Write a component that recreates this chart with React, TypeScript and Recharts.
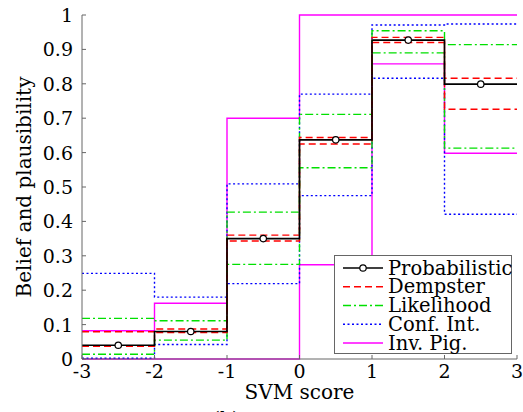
import { ComposedChart, Line, Scatter, XAxis, YAxis, Legend, Label } from "recharts";

// bin edges and centres along the SVM score axis
const EDGES = [-3, -2, -1, 0, 1, 2, 3];
const CENTERS = [-2.5, -1.5, -0.5, 0.5, 1.5, 2.5];

// one value per bin
const PROB = [0.04, 0.08, 0.35, 0.637, 0.927, 0.799];
const DEMP_LO = [0.037, 0.077, 0.343, 0.625, 0.92, 0.726];
const DEMP_HI = [0.079, 0.087, 0.36, 0.644, 0.935, 0.816];
const LIK_LO = [0.014, 0.055, 0.275, 0.556, 0.89, 0.613];
const LIK_HI = [0.118, 0.111, 0.427, 0.711, 0.954, 0.914];
const CONF_LO = [0.002, 0.042, 0.219, 0.475, 0.816, 0.421];
const CONF_HI = [0.249, 0.18, 0.509, 0.77, 0.971, 0.974];
const PIG_LO = [0, 0, 0, 0.274, 0.858, 0.598];
const PIG_HI = [0.082, 0.162, 0.7, 1.0, 1.0, 1.0];

const X_TICKS = [-3, -2, -1, 0, 1, 2, 3];
const X_LABELS = ["-3", "-2", "-1", "0", "1", "2", "3"];
const Y_TICKS = [0, 0.1, 0.2, 0.3, 0.4, 0.5, 0.6, 0.7, 0.8, 0.9, 1];
const Y_LABELS = ["0", "0.1", "0.2", "0.3", "0.4", "0.5", "0.6", "0.7", "0.8", "0.9", "1"];

const LEGEND = ["Probabilistic", "Dempster", "Likelihood", "Conf. Int.", "Inv. Pig."];

const FONT = "'DejaVu Serif', serif";
const AXIS = "#666";

const STYLE = {
  prob: { color: "#000000", dash: undefined as string | undefined },
  demp: { color: "#ff0000", dash: "7 4" },
  lik: { color: "#00e000", dash: "8 3 2 3" },
  conf: { color: "#0000ff", dash: "2 2.5" },
  pig: { color: "#ff00ff", dash: undefined as string | undefined },
};

// stairs: last bin value repeated at the right edge
const rows = EDGES.map((x, i) => {
  const k = Math.min(i, PROB.length - 1);
  return {
    x,
    prob: PROB[k],
    dempLo: DEMP_LO[k], dempHi: DEMP_HI[k],
    likLo: LIK_LO[k], likHi: LIK_HI[k],
    confLo: CONF_LO[k], confHi: CONF_HI[k],
    pigLo: PIG_LO[k], pigHi: PIG_HI[k],
  };
});

const markers = CENTERS.map((x, i) => ({ x, y: PROB[i] }));

const lines: { key: string; s: keyof typeof STYLE }[] = [
  { key: "pigLo", s: "pig" }, { key: "pigHi", s: "pig" },
  { key: "confLo", s: "conf" }, { key: "confHi", s: "conf" },
  { key: "likLo", s: "lik" }, { key: "likHi", s: "lik" },
  { key: "dempLo", s: "demp" }, { key: "dempHi", s: "demp" },
  { key: "prob", s: "prob" },
];

function XTick({ x, y, payload }: any) {
  const i = X_TICKS.indexOf(payload.value);
  return (
    <g>
      <line x1={x} x2={x} y1={y} y2={y - 4} stroke={AXIS} />
      <text x={x} y={y + 19} textAnchor="middle" fontFamily={FONT} fontSize={19} fill="#000">
        {X_LABELS[i]}
      </text>
    </g>
  );
}

function YTick({ x, y, payload }: any) {
  const i = Y_TICKS.findIndex((t) => Math.abs(t - payload.value) < 1e-6);
  return (
    <g>
      <line x1={x} x2={x + 4} y1={y} y2={y} stroke={AXIS} />
      <text x={x - 9} y={y} textAnchor="end" dominantBaseline="central" fontFamily={FONT} fontSize={19} fill="#000">
        {Y_LABELS[i]}
      </text>
    </g>
  );
}

function LegendBox() {
  const keys: (keyof typeof STYLE)[] = ["prob", "demp", "lik", "conf", "pig"];
  return (
    <svg width={178} height={99} style={{ display: "block" }}>
      <rect x={0.5} y={0.5} width={177} height={98} fill="#fff" stroke={AXIS} />
      {LEGEND.map((name, i) => {
        const cy = 13 + i * 18.75;
        const st = STYLE[keys[i]];
        return (
          <g key={name}>
            <line x1={9} x2={49} y1={cy} y2={cy} stroke={st.color} strokeWidth={1.5} strokeDasharray={st.dash} />
            {i === 0 && <circle cx={29} cy={cy} r={3.2} fill="#fff" stroke="#000" strokeWidth={1.2} />}
            <text x={54} y={cy} dominantBaseline="central" fontFamily={FONT} fontSize={19.5} fill="#000">
              {name}
            </text>
          </g>
        );
      })}
    </svg>
  );
}

export default function App() {
  return (
    <div style={{ position: "absolute", left: 0, top: 0, width: 523, height: 412, background: "#fff" }}>
      <ComposedChart width={523} height={412} data={rows} margin={{ top: 15, right: 6, bottom: 0, left: 0 }}>
        <XAxis
          dataKey="x" type="number" domain={[-3, 3]} ticks={X_TICKS} allowDataOverflow
          height={53} tickSize={0} tickMargin={0} tick={<XTick />} axisLine={{ stroke: AXIS }} interval={0}
        >
          <Label
            content={({ viewBox }: any) => (
              <g>
                <text x={viewBox.x + viewBox.width / 2} y={viewBox.y + 40} textAnchor="middle"
                  fontFamily={FONT} fontSize={20} fill="#000">SVM score</text>
                <text x={226} y={425} textAnchor="middle" fontFamily={FONT} fontSize={19} fill="#000">(b)</text>
              </g>
            )}
          />
        </XAxis>
        <YAxis
          type="number" domain={[0, 1]} ticks={Y_TICKS} width={82} tickSize={0} tickMargin={0}
          tick={<YTick />} axisLine={{ stroke: AXIS }} interval={0}
        >
          <Label
            content={({ viewBox }: any) => {
              const cx = viewBox.x + 31;
              const cy = viewBox.y + viewBox.height / 2;
              return (
                <text x={cx} y={cy} transform={`rotate(-90, ${cx}, ${cy})`} textAnchor="middle"
                  fontFamily={FONT} fontSize={20} fill="#000">Belief and plausibility</text>
              );
            }}
          />
        </YAxis>
        {lines.map((l) => (
          <Line key={l.key} type="stepAfter" dataKey={l.key} stroke={STYLE[l.s].color}
            strokeDasharray={STYLE[l.s].dash} strokeWidth={l.s === "prob" ? 1.6 : 1.4}
            dot={false} activeDot={false} isAnimationActive={false} />
        ))}
        <Scatter data={markers} dataKey="y" isAnimationActive={false}
          shape={(p: any) => <circle cx={p.cx} cy={p.cy} r={3.2} fill="#fff" stroke="#000" strokeWidth={1.2} />} />
        <Legend layout="vertical" align="center" verticalAlign="middle" content={() => <LegendBox />}
          wrapperStyle={{ left: 334, top: 255, width: 178, height: 99 }} />
      </ComposedChart>
    </div>
  );
}
